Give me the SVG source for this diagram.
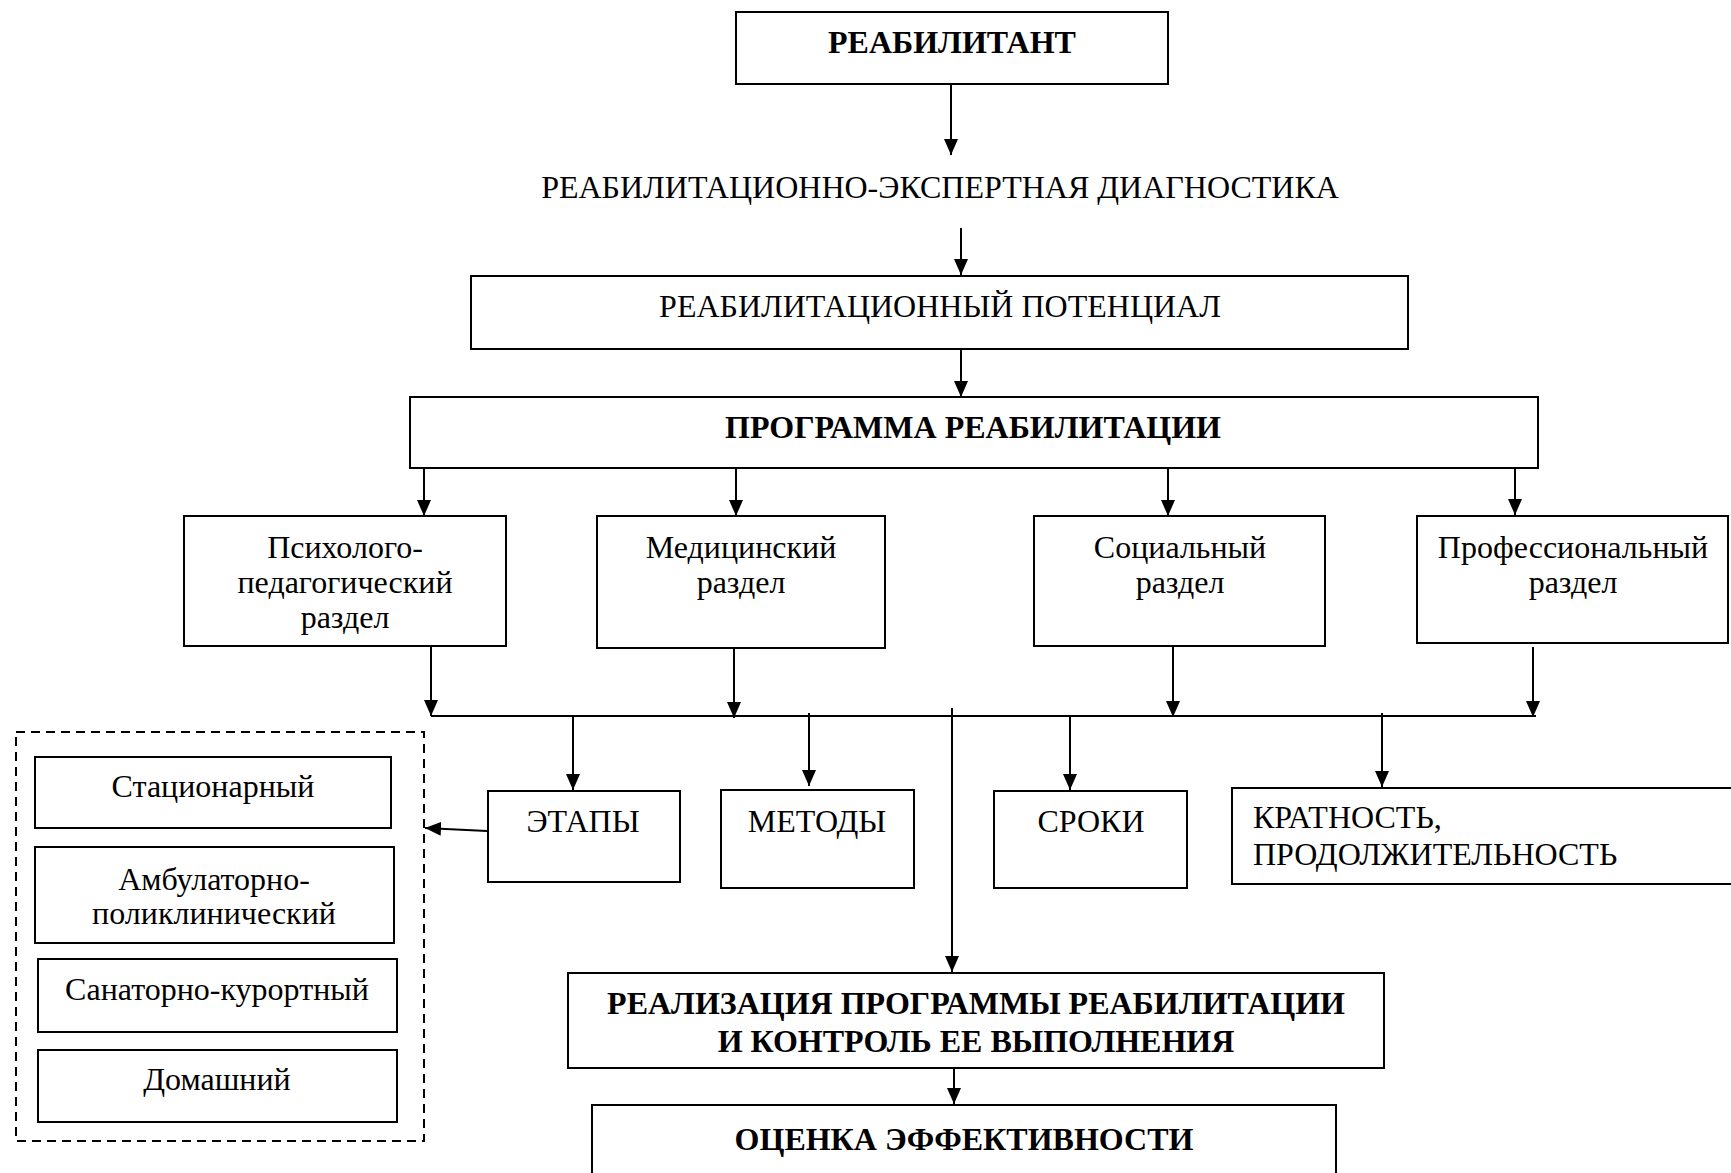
<svg xmlns="http://www.w3.org/2000/svg" width="1731" height="1173" viewBox="0 0 1731 1173">
<style>
.box{fill:#fff;stroke:#000;stroke-width:2}
.t{font-family:"Liberation Serif","Times New Roman",serif;font-size:32px;fill:#000;text-anchor:middle}
.b{font-weight:bold}
.l{text-anchor:start}
.c{stroke:#000;stroke-width:2;fill:none}
.a{marker-end:url(#arr)}
.dash{fill:none;stroke:#000;stroke-width:2;stroke-dasharray:9 6}
</style>
<defs>
<marker id="arr" markerUnits="userSpaceOnUse" markerWidth="16" markerHeight="14" refX="16" refY="7" orient="auto">
<path d="M0,0 L16,7 L0,14 z" fill="#000"/>
</marker>
</defs>
<rect width="1731" height="1173" fill="#fff"/>

<g id="connectors">
<line class="c a" x1="951" y1="84" x2="951" y2="155"/>
<line class="c a" x1="961" y1="228" x2="961" y2="275"/>
<line class="c a" x1="961" y1="349" x2="961" y2="397"/>
<line class="c a" x1="424" y1="468" x2="424" y2="516"/>
<line class="c a" x1="736" y1="468" x2="736" y2="516"/>
<line class="c a" x1="1168" y1="468" x2="1168" y2="516"/>
<line class="c a" x1="1515" y1="466" x2="1515" y2="515"/>
<line class="c a" x1="431" y1="645" x2="431" y2="716"/>
<line class="c a" x1="734" y1="648" x2="734" y2="718"/>
<line class="c a" x1="1173" y1="646" x2="1173" y2="717"/>
<line class="c a" x1="1533" y1="647" x2="1533" y2="717"/>
<line class="c" x1="431" y1="716" x2="1536" y2="716"/>
<line class="c a" x1="573" y1="716" x2="573" y2="790"/>
<line class="c a" x1="809" y1="713" x2="809" y2="786"/>
<line class="c a" x1="1070" y1="716" x2="1070" y2="790"/>
<line class="c a" x1="1382" y1="713" x2="1382" y2="787"/>
<line class="c a" x1="952" y1="708" x2="952" y2="972"/>
<line class="c a" x1="487" y1="831" x2="425" y2="828"/>
<line class="c a" x1="954" y1="1068" x2="954" y2="1104"/>
</g>

<g id="n-reabilitant">
<rect class="box" x="736" y="12" width="432" height="72"/>
<text class="t b" x="952" y="53">РЕАБИЛИТАНТ</text>
</g>

<g id="n-diagnostika">
<text class="t" x="940" y="198">РЕАБИЛИТАЦИОННО-ЭКСПЕРТНАЯ ДИАГНОСТИКА</text>
</g>

<g id="n-potencial">
<rect class="box" x="471" y="276" width="937" height="73"/>
<text class="t" x="940" y="317">РЕАБИЛИТАЦИОННЫЙ ПОТЕНЦИАЛ</text>
</g>

<g id="n-programma">
<rect class="box" x="410" y="397" width="1128" height="71"/>
<text class="t b" x="973" y="438">ПРОГРАММА РЕАБИЛИТАЦИИ</text>
</g>

<g id="n-psych">
<rect class="box" x="184" y="516" width="322" height="130"/>
<text class="t" x="345" y="558">Психолого-</text>
<text class="t" x="345" y="593">педагогический</text>
<text class="t" x="345" y="628">раздел</text>
</g>

<g id="n-med">
<rect class="box" x="597" y="516" width="288" height="132"/>
<text class="t" x="741" y="558">Медицинский</text>
<text class="t" x="741" y="593">раздел</text>
</g>

<g id="n-soc">
<rect class="box" x="1034" y="516" width="291" height="130"/>
<text class="t" x="1180" y="558">Социальный</text>
<text class="t" x="1180" y="593">раздел</text>
</g>

<g id="n-prof">
<rect class="box" x="1417" y="516" width="311" height="127"/>
<text class="t" x="1573" y="558">Профессиональный</text>
<text class="t" x="1573" y="593">раздел</text>
</g>

<g id="n-etapy">
<rect class="box" x="488" y="791" width="192" height="91"/>
<text class="t" x="583" y="832">ЭТАПЫ</text>
</g>

<g id="n-metody">
<rect class="box" x="721" y="790" width="193" height="98"/>
<text class="t" x="817" y="832">МЕТОДЫ</text>
</g>

<g id="n-sroki">
<rect class="box" x="994" y="791" width="193" height="97"/>
<text class="t" x="1091" y="832">СРОКИ</text>
</g>

<g id="n-kratnost">
<rect class="box" x="1232" y="788" width="510" height="96"/>
<text class="t l" x="1253" y="828">КРАТНОСТЬ,</text>
<text class="t l" x="1253" y="865">ПРОДОЛЖИТЕЛЬНОСТЬ</text>
</g>

<g id="n-formy">
<rect class="dash" x="16" y="732" width="408" height="409"/>
<g id="n-stac">
<rect class="box" x="35" y="757" width="356" height="71"/>
<text class="t" x="213" y="797">Стационарный</text>
</g>
<g id="n-ambul">
<rect class="box" x="35" y="847" width="359" height="96"/>
<text class="t" x="214" y="890">Амбулаторно-</text>
<text class="t" x="214" y="924">поликлинический</text>
</g>
<g id="n-sanat">
<rect class="box" x="38" y="959" width="359" height="73"/>
<text class="t" x="217" y="1000">Санаторно-курортный</text>
</g>
<g id="n-dom">
<rect class="box" x="38" y="1050" width="359" height="72"/>
<text class="t" x="217" y="1090">Домашний</text>
</g>
</g>

<g id="n-realizaciya">
<rect class="box" x="568" y="973" width="816" height="95"/>
<text class="t b" x="976" y="1014">РЕАЛИЗАЦИЯ ПРОГРАММЫ РЕАБИЛИТАЦИИ</text>
<text class="t b" x="976" y="1052">И КОНТРОЛЬ ЕЕ ВЫПОЛНЕНИЯ</text>
</g>

<g id="n-ocenka">
<rect class="box" x="592" y="1105" width="744" height="90"/>
<text class="t b" x="964" y="1150">ОЦЕНКА ЭФФЕКТИВНОСТИ</text>
</g>
</svg>
